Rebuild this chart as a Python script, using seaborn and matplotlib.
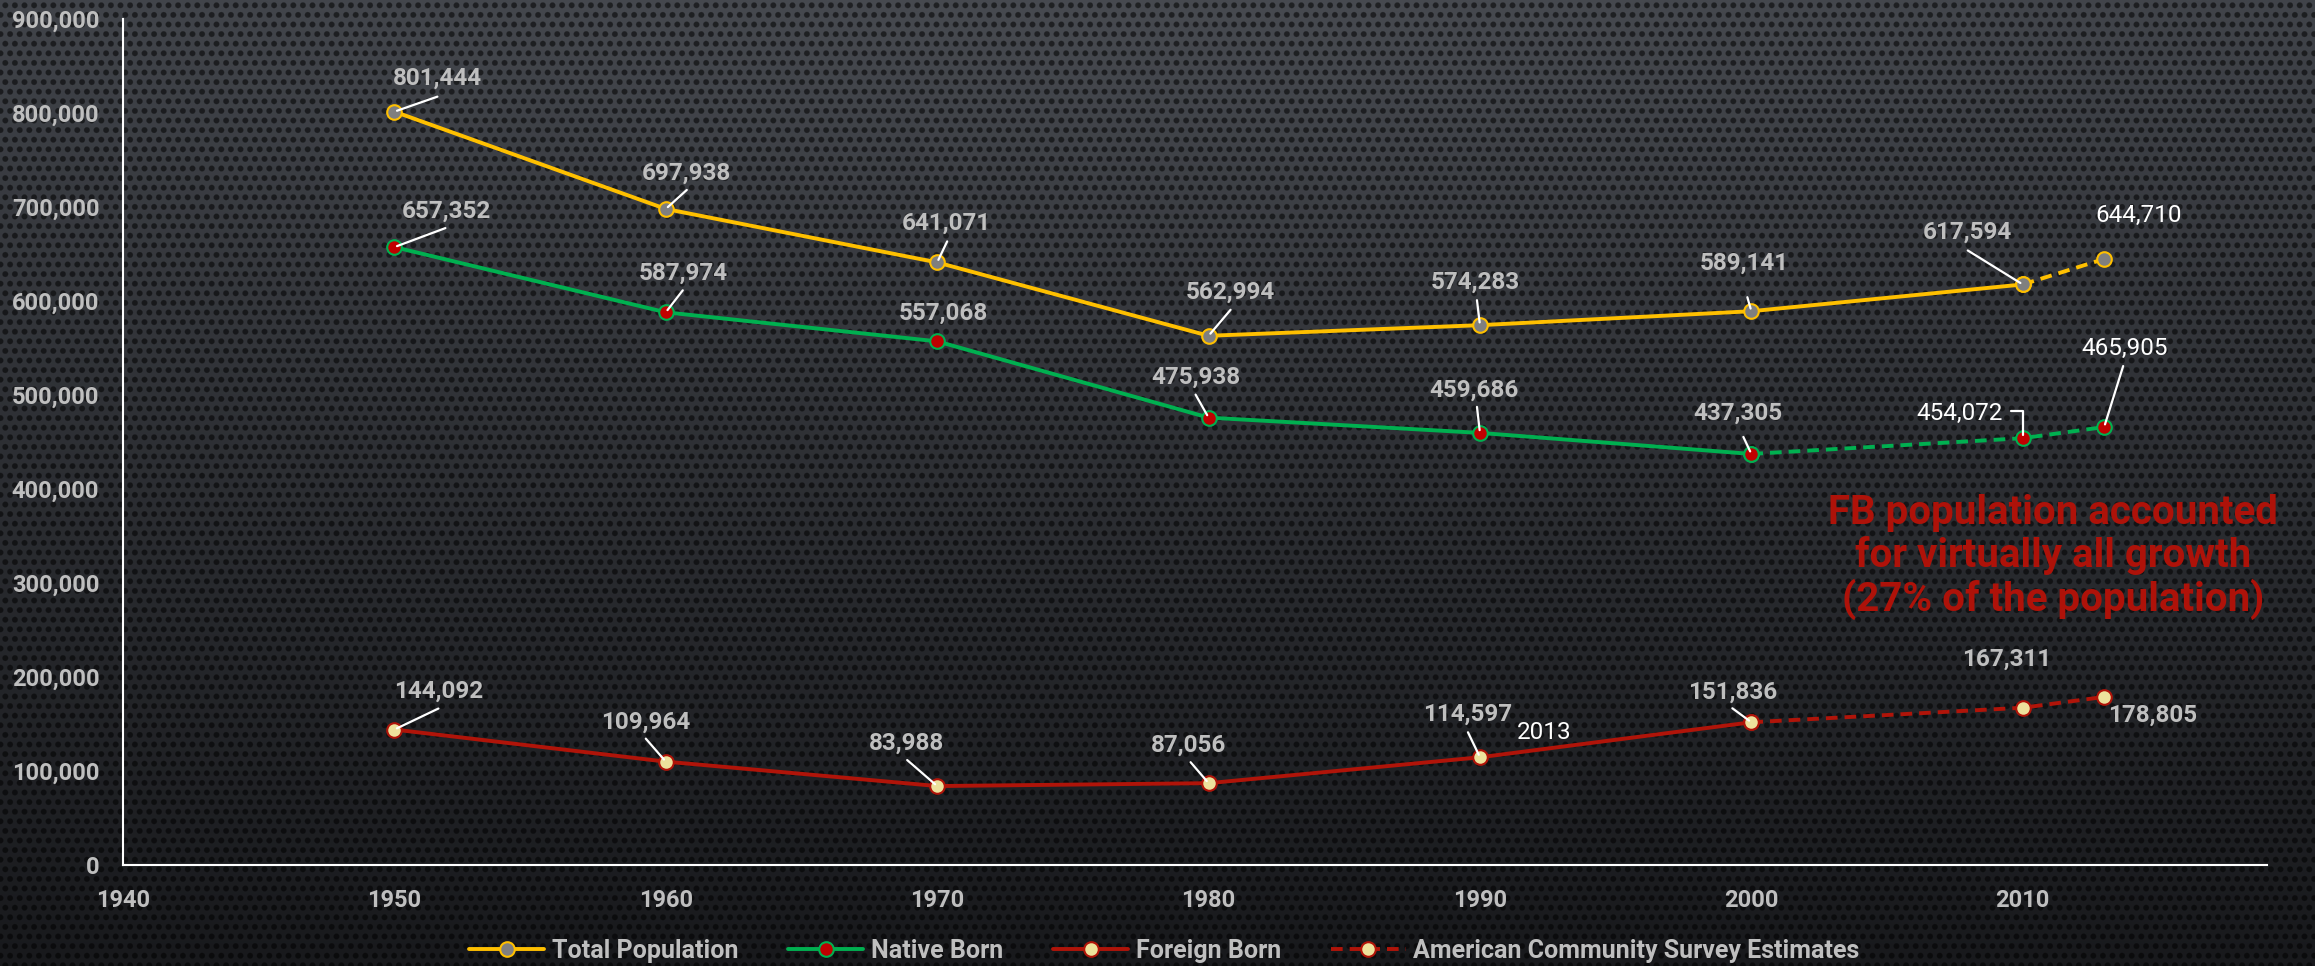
import numpy as np
import pandas as pd
import matplotlib
matplotlib.use('Agg')
import matplotlib.pyplot as plt
from matplotlib.lines import Line2D
from matplotlib.ticker import FuncFormatter
import seaborn as sns

# 数据
years = [1950, 1960, 1970, 1980, 1990, 2000, 2010, 2013]
total_pop = [801444, 697938, 641071, 562994, 574283, 589141, 617594, 644710]
native_born = [657352, 587974, 557068, 475938, 459686, 437305, 454072, 465905]
foreign_born = [144092, 109964, 83988, 87056, 114597, 151836, 167311, 178805]
# first year of the ACS (dashed) part of each series
acs_start = {'total': 2010, 'native': 2000, 'foreign': 2000}

x_ticks = list(range(1940, 2011, 10))
y_ticks = list(range(0, 900001, 100000))
legend_labels = ['Total Population', 'Native Born', 'Foreign Born',
                 'American Community Survey Estimates']
note_text = 'FB population accounted\nfor virtually all growth\n(27% of the population)'

df = pd.DataFrame({'year': years, 'total': total_pop,
                   'native': native_born, 'foreign': foreign_born})

# 样式
styles = {
    'total': dict(color='#FFC000', mfc='#7F7F7F'),
    'native': dict(color='#00B050', mfc='#C00000'),
    'foreign': dict(color='#B01409', mfc='#EDE29C'),
}
LW = 2.8
MS = 10.5
MEW = 1.5
DASH = (3.0, 1.8)
GRAY = '#BFBFBF'

# label offsets in pixels (dx, dy), leader end offsets, colors
label_pos = {
    'total': [(43, 33), (21, 36), (9, 39), (22, 44), (-5, 43), (-7, 48), (-55, 52), (34, 44)],
    'native': [(52, 36), (17, 39), (6, 28), (-13, 40), (-6, 43), (-13, 41), (-63, 25), (20, 79)],
    'foreign': [(44, 38), (-20, 39), (-31, 43), (-20, 38), (-12, 43), (-19, 30), (-16, 48), (48, -18)],
}
leader_pos = {
    'total': [(43, 15), (21, 19), (10, 21), (22, 26), (-3, 25), (-4, 14), (-55, 34), None],
    'native': [(51, 19), (17, 22), None, (-13, 23), (-3, 26), (-8, 17), (-12, 27, 'elbow'), (19, 61)],
    'foreign': [(44, 21), (-20, 23), (-30, 26), (-18, 21), (-12, 25), (-19, 14), None, None],
}
white_labels = {('total', 7), ('native', 6), ('native', 7)}

sns.set_theme(style='white')
plt.rcParams['font.family'] = ['Roboto', 'DejaVu Sans']

W, H = 2315, 966
fig = plt.figure(figsize=(W / 100, H / 100), dpi=100)

# 背景纹理（穿孔金属）
yy, xx = np.mgrid[0:H, 0:W].astype(float)
t = yy / H
top = np.array([62, 65, 71]) / 255
bot = np.array([24, 25, 28]) / 255
glow = 0.035 * np.exp(-((xx - W / 2) / 1000) ** 2 - (yy / 380) ** 2)
a, b = 9.6, 9.6
dA = np.hypot((xx % a) - a / 2, (yy % (2 * b)) - b / 2)
dB = np.hypot(((xx + a / 2) % a) - a / 2, ((yy - b) % (2 * b)) - b / 2)
d = np.minimum(dA, dB)
hole = np.clip((3.5 - d) / 1.2, 0, 1)
img = top[None, None, :] * (1 - t[..., None]) + bot[None, None, :] * t[..., None]
img = img + glow[..., None]
img = img * (1 - 0.55 * hole[..., None])
bg = fig.add_axes([0, 0, 1, 1], zorder=-1)
bg.imshow(np.clip(img, 0, 1), aspect='auto', interpolation='none')
bg.axis('off')

ax = fig.add_axes([123 / W, 1 - 865 / H, (2267 - 123) / W, (865 - 19) / H])
ax.set_facecolor('none')

for key in ['foreign', 'native', 'total']:
    st = styles[key]
    mk = dict(marker='o', markersize=MS, markerfacecolor=st['mfc'],
              markeredgecolor=st['color'], markeredgewidth=MEW)
    solid = df[df['year'] <= acs_start[key]]
    dashed = df[df['year'] >= acs_start[key]]
    sns.lineplot(data=dashed, x='year', y=key, ax=ax, color=st['color'], lw=LW,
                 dashes=False, linestyle=(0, DASH), errorbar=None, **mk)
    sns.lineplot(data=solid, x='year', y=key, ax=ax, color=st['color'], lw=LW,
                 errorbar=None, **mk)

# 数据标签
for key in ['total', 'native', 'foreign']:
    for i, (yr, v) in enumerate(zip(df['year'], df[key])):
        dx, dy = label_pos[key][i]
        white = (key, i) in white_labels
        ax.annotate(f'{v:,}', xy=(yr, v), xytext=(dx, dy), textcoords='offset pixels',
                    ha='center', va='center', fontsize=17.5,
                    color='white' if white else GRAY,
                    fontweight='normal' if white else 'bold', zorder=5)
        ld = leader_pos[key][i]
        if ld is not None:
            cs = 'angle,angleA=0,angleB=90,rad=0' if len(ld) == 3 else 'arc3'
            ax.annotate('', xy=(yr, v), xytext=(ld[0], ld[1]), textcoords='offset pixels',
                        arrowprops=dict(arrowstyle='-', color='white', lw=1.6,
                                        shrinkA=0, shrinkB=2, connectionstyle=cs),
                        zorder=4)

# stray "2013" label next to the 1990 foreign born point
ax.annotate('2013', xy=(years[4], foreign_born[4]), xytext=(64, 25),
            textcoords='offset pixels', ha='center', va='center',
            fontsize=17.5, color='white')

ax.set_xlim(1940, 2019)
ax.set_ylim(0, 900000)
ax.set_xticks(x_ticks)
ax.set_yticks(y_ticks)
ax.yaxis.set_major_formatter(FuncFormatter(lambda v, _: f'{v:,.0f}'))
ax.tick_params(length=0, pad=17, colors=GRAY, labelsize=17)
for lab in ax.get_xticklabels() + ax.get_yticklabels():
    lab.set_fontweight('bold')
ax.set_xlabel('')
ax.set_ylabel('')
for s in ['top', 'right']:
    ax.spines[s].set_visible(False)
for s in ['left', 'bottom']:
    ax.spines[s].set_color('white')
    ax.spines[s].set_linewidth(1.5)
ax.grid(False)

fig.text(2053 / W, 1 - 557 / H, note_text, ha='center', va='center',
         fontsize=29, fontweight='bold', color='#AE1209', linespacing=1.13)

# 图例
handles = []
for key, ls in [('total', '-'), ('native', '-'), ('foreign', '-'), ('foreign', (0, DASH))]:
    st = styles[key]
    handles.append(Line2D([], [], color=st['color'], lw=LW, linestyle=ls, marker='o',
                          markersize=MS, markerfacecolor=st['mfc'],
                          markeredgecolor=st['color'], markeredgewidth=MEW))
leg = fig.legend(handles, legend_labels, loc='center', bbox_to_anchor=(0.503, 1 - 951 / H),
                 ncol=4, frameon=False, fontsize=18, handlelength=3.0,
                 handletextpad=0.3, columnspacing=2.0, numpoints=1)
for txt in leg.get_texts():
    txt.set_color(GRAY)
    txt.set_fontweight('bold')

fig.savefig('out.png', dpi=100)
